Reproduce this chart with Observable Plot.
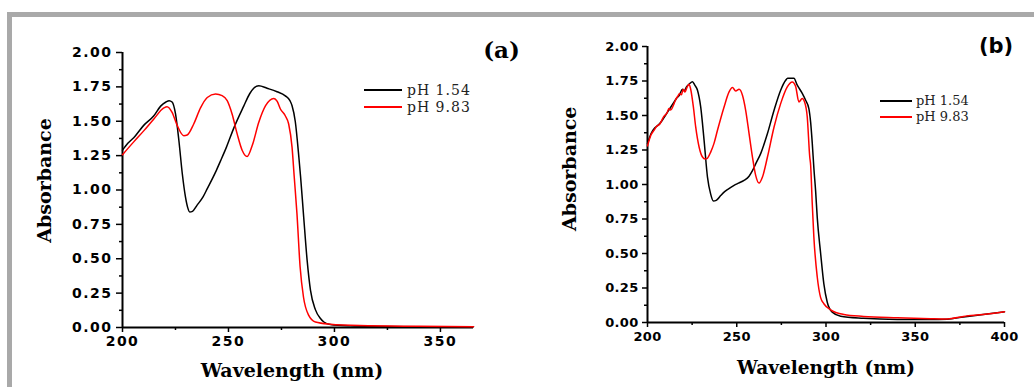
<!DOCTYPE html>
<html><head><meta charset="utf-8">
<script src="https://cdn.jsdelivr.net/npm/d3@7"></script>
<script src="https://cdn.jsdelivr.net/npm/@observablehq/plot@0.6"></script>
<style>
html,body{margin:0;padding:0;background:#fff;}
#fig{position:relative;width:1034px;height:387px;overflow:hidden;background:#fff;}
#frame{position:absolute;left:7px;top:12px;width:1100px;height:500px;border-top:5px solid #a9a9a9;border-left:5px solid #a9a9a9;}
.panel{position:absolute;top:0;}
#pa{left:0;width:520px;height:387px;}
#pb{left:520px;width:514px;height:387px;}
#pa g[aria-label="y-axis tick label"], #pa g[aria-label="x-axis tick label"]{letter-spacing:1.5px;}
#pb g[aria-label="y-axis tick label"], #pb g[aria-label="x-axis tick label"]{letter-spacing:0.3px;}
#pa g[aria-label="xtitle"]{letter-spacing:2px;}
.leg{position:absolute;display:flex;align-items:center;height:16px;line-height:16px;font-family:"DejaVu Serif",serif;color:#222;white-space:nowrap;}
.sw{display:inline-block;height:2px;}
</style></head>
<body>
<div id="fig">
  <div id="frame"></div>
  <div id="pa" class="panel"></div>
  <div id="pb" class="panel"></div>
  <div id="lega"></div>
  <div id="legb"></div>
</div>
<script>
// ---- data ----
const seriesNames = ["pH 1.54", "pH 9.83"];
const seriesColors = ["#000000", "#ff0000"];
const xTitle = "Wavelength (nm)";
const yTitle = "Absorbance";
const panelTags = ["(a)", "(b)"];

const yMajorTicks = [0, 0.25, 0.5, 0.75, 1.0, 1.25, 1.5, 1.75, 2.0];
const yMinorTicks = [0.125, 0.375, 0.625, 0.875, 1.125, 1.375, 1.625, 1.875];
const xMajorTicksA = [200, 250, 300, 350];
const xMinorTicksA = [225, 275, 325];
const xMajorTicksB = [200, 250, 300, 350, 400];
const xMinorTicksB = [225, 275, 325, 375];

// Panel (a), pH 1.54
const aAcidWl = [200, 202.5, 205.3, 210, 214.8, 218, 220.5, 222, 223.4, 225, 226.6, 228.2, 229.7, 230.8, 231.7, 233, 235.2, 238, 240, 243.9, 246.2, 249, 252.5, 257.2, 260, 261.9, 264.3, 268.2, 272.9, 276.8, 279, 280, 281.5, 283.2, 284, 285.5, 287.1, 288.7, 291, 293.4, 295, 298, 307.5, 320, 340, 365.6];
const aAcidAbs = [1.29, 1.34, 1.38, 1.47, 1.54, 1.61, 1.64, 1.65, 1.64, 1.555, 1.36, 1.12, 0.95, 0.87, 0.84, 0.845, 0.89, 0.95, 1.01, 1.13, 1.21, 1.31, 1.45, 1.61, 1.70, 1.74, 1.758, 1.74, 1.715, 1.685, 1.65, 1.613, 1.50, 1.24, 1.10, 0.80, 0.49, 0.27, 0.13, 0.065, 0.04, 0.022, 0.012, 0.008, 0.006, 0.005];
// Panel (a), pH 9.83
const aBaseWl = [200, 205.3, 210, 214.8, 219.5, 221, 223.4, 225.8, 228.9, 230.5, 233.6, 236.8, 240, 243.9, 247, 249.4, 251.7, 254.1, 256.5, 258.8, 261.2, 264.3, 267.5, 271.4, 273, 274.5, 276.8, 278.4, 280, 281, 282.3, 283.8, 285.4, 287.8, 291, 298, 312, 340, 365.6];
const aBaseAbs = [1.257, 1.35, 1.43, 1.517, 1.597, 1.606, 1.565, 1.47, 1.395, 1.40, 1.48, 1.597, 1.673, 1.698, 1.686, 1.65, 1.553, 1.408, 1.287, 1.243, 1.323, 1.492, 1.613, 1.666, 1.644, 1.589, 1.54, 1.48, 1.31, 1.10, 0.83, 0.44, 0.22, 0.09, 0.04, 0.024, 0.014, 0.009, 0.006];

// Panel (b), pH 1.54
const bAcidWl = [200, 202, 204, 206, 208, 210, 212, 214, 216, 218, 219.5, 220.5, 222, 223.5, 225.2, 226.5, 228, 229.8, 231.7, 233.6, 235.4, 236.9, 238.5, 241, 242.9, 245, 248.5, 251, 254.1, 256.9, 258.8, 261, 263.4, 267.2, 270.9, 274.6, 277.4, 278.5, 282, 283.9, 286.7, 288.6, 290.4, 291.4, 292.3, 293.2, 294.2, 295.1, 297, 298.8, 300.7, 303.5, 308.2, 321, 340, 358, 368, 377, 388, 400];
const bAcidAbs = [1.296, 1.37, 1.41, 1.43, 1.46, 1.50, 1.54, 1.58, 1.62, 1.65, 1.69, 1.68, 1.71, 1.73, 1.745, 1.72, 1.683, 1.562, 1.32, 1.054, 0.93, 0.88, 0.885, 0.92, 0.945, 0.965, 0.994, 1.01, 1.03, 1.06, 1.10, 1.16, 1.224, 1.369, 1.538, 1.683, 1.755, 1.77, 1.77, 1.72, 1.66, 1.61, 1.55, 1.45, 1.30, 1.12, 0.95, 0.76, 0.50, 0.28, 0.147, 0.075, 0.046, 0.031, 0.022, 0.021, 0.024, 0.04, 0.058, 0.078];
// Panel (b), pH 9.83
const bBaseWl = [200, 202, 204, 205, 207, 209, 211, 212, 213, 215, 216, 217, 218, 219, 220, 221, 222, 223.3, 224.2, 225.7, 227, 228.9, 230.8, 232.3, 233.5, 235.4, 237.3, 239.2, 242.9, 245.7, 247.6, 249.4, 251.3, 253.2, 255, 256.9, 258.8, 260.6, 262.5, 264.4, 267.2, 270.9, 274.6, 278.3, 281.1, 283, 284.8, 286.7, 288, 289.5, 290.9, 291.4, 292.3, 293.2, 295.1, 297, 298.8, 302.6, 310, 321, 340, 358.5, 368, 377, 388, 400];
const bBaseAbs = [1.28, 1.36, 1.40, 1.42, 1.44, 1.49, 1.52, 1.55, 1.54, 1.59, 1.62, 1.64, 1.66, 1.65, 1.69, 1.67, 1.70, 1.727, 1.69, 1.562, 1.417, 1.272, 1.199, 1.185, 1.19, 1.235, 1.30, 1.393, 1.562, 1.671, 1.702, 1.678, 1.69, 1.647, 1.538, 1.369, 1.199, 1.066, 1.01, 1.054, 1.199, 1.417, 1.586, 1.707, 1.743, 1.71, 1.598, 1.623, 1.598, 1.489, 1.199, 1.14, 0.86, 0.62, 0.33, 0.18, 0.136, 0.092, 0.058, 0.044, 0.034, 0.027, 0.025, 0.044, 0.058, 0.078];

// ---- build ----
function rows(wl, abs, name) { return wl.map((w, i) => ({wl: w, abs: abs[i], series: name})); }

function makePanel(c) {
  const data = [...rows(c.acidWl, c.acidAbs, seriesNames[0]), ...rows(c.baseWl, c.baseAbs, seriesNames[1])];
  return Plot.plot({
    width: c.width, height: 387,
    marginLeft: c.ml, marginRight: c.mr, marginTop: c.mt, marginBottom: c.mb,
    x: {domain: c.xDomain, label: null},
    y: {domain: [0, 2], label: null},
    color: {domain: seriesNames, range: seriesColors},
    style: {background: "transparent", overflow: "visible"},
    marks: [
      Plot.axisY(yMajorTicks, {tickSize: c.yTickSize, tickPadding: c.yTickPad, tickFormat: d3.format(".2f"),
        fontSize: c.tickFont, fontWeight: "bold", fontFamily: "DejaVu Sans", strokeWidth: 1.5, label: null, fill: "#000"}),
      Plot.axisY(yMinorTicks, {tickSize: 3, tickFormat: () => "", strokeWidth: 1.5, label: null}),
      Plot.axisX(c.xMajor, {tickSize: 5, tickPadding: 4, tickFormat: d3.format("d"),
        fontSize: c.tickFont, fontWeight: "bold", fontFamily: "DejaVu Sans", strokeWidth: 1.5, label: null, fill: "#000"}),
      Plot.axisX(c.xMinor, {tickSize: 3, tickFormat: () => "", strokeWidth: 1.5, label: null}),
      Plot.ruleY([0], {strokeWidth: 2}),
      Plot.ruleX([c.xDomain[0]], {strokeWidth: 2}),
      Plot.line(data, {x: "wl", y: "abs", z: "series", stroke: "series", strokeWidth: 1.5, curve: "monotone-x"}),
      Plot.text([xTitle], {text: d => d, frameAnchor: "bottom", lineAnchor: "middle", textAnchor: "middle",
        dx: c.xtDx, dy: c.xtDy, fontSize: c.xtFont, fontWeight: "bold", fontFamily: "DejaVu Serif", ariaLabel: "xtitle"}),
      Plot.text([yTitle], {text: d => d, frameAnchor: "left", rotate: -90, lineAnchor: "middle", textAnchor: "middle",
        dx: c.ytDx, dy: c.ytDy, fontSize: 19, fontWeight: "bold", fontFamily: "DejaVu Serif", ariaLabel: "ytitle"}),
      Plot.text([c.tag], {text: d => d, frameAnchor: "top-right", lineAnchor: "middle", textAnchor: "middle",
        dx: c.tagDx, dy: c.tagDy, fontSize: c.tagFont, fontWeight: "bold", fontFamily: c.tagFamily, ariaLabel: "tag"})
    ]
  });
}

document.getElementById("pa").append(makePanel({
  width: 520, ml: 122, mr: 47, mt: 52, mb: 60, xDomain: [200, 365.6],
  acidWl: aAcidWl, acidAbs: aAcidAbs, baseWl: aBaseWl, baseAbs: aBaseAbs,
  xMajor: xMajorTicksA, xMinor: xMinorTicksA, yTickSize: 6, yTickPad: 4, tickFont: 14,
  xtDx: -6, xtDy: 43, xtFont: 19, ytDx: -78, ytDy: -9.5,
  tag: panelTags[0], tagDx: 28, tagDy: -2, tagFont: 23, tagFamily: "DejaVu Serif"
}));
document.getElementById("pb").append(makePanel({
  width: 514, ml: 127, mr: 30, mt: 46, mb: 65, xDomain: [200, 400],
  acidWl: bAcidWl, acidAbs: bAcidAbs, baseWl: bBaseWl, baseAbs: bBaseAbs,
  xMajor: xMajorTicksB, xMinor: xMinorTicksB, yTickSize: 5, yTickPad: 4, tickFont: 13,
  xtDx: 0, xtDy: 46, xtFont: 18.5, ytDx: -77.5, ytDy: -15.7,
  tag: panelTags[1], tagDx: -8.5, tagDy: 0, tagFont: 21, tagFamily: "DejaVu Sans"
}));

// legends
function legend(el, left, tops, swW, gap, font, spacing) {
  const host = document.getElementById(el);
  seriesNames.forEach((name, i) => {
    const row = document.createElement("div");
    row.className = "leg";
    row.style.left = left + "px";
    row.style.top = tops[i] + "px";
    row.style.fontSize = font + "px";
    row.style.letterSpacing = spacing + "px";
    const sw = document.createElement("span");
    sw.className = "sw";
    sw.style.width = swW + "px";
    sw.style.background = seriesColors[i];
    const tx = document.createElement("span");
    tx.textContent = name;
    tx.style.marginLeft = gap + "px";
    row.append(sw, tx);
    host.append(row);
  });
}
legend("lega", 364, [82, 98.5], 38, 5, 14, 1);
legend("legb", 880, [92.5, 109], 32, 4, 13, 0);
</script>
</body></html>
